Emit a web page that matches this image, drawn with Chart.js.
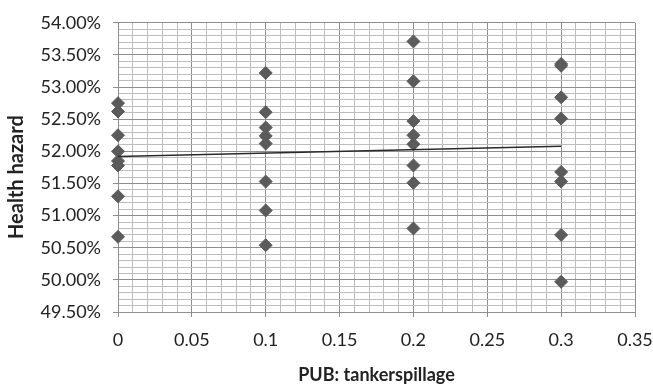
<!DOCTYPE html>
<html>
<head>
<meta charset="utf-8">
<script src="https://cdn.jsdelivr.net/npm/chart.js@4.4.0/dist/chart.umd.min.js"></script>
<style>
  html, body { margin: 0; padding: 0; background: #fff; }
  #wrap { width: 653px; height: 392px; }
</style>
</head>
<body>
<div id="wrap"><canvas id="scatterChart"></canvas></div>
<script>
// values (y in percent)
const xGroups = [0, 0.1, 0.2, 0.3];
const hazardAt0 = [52.75, 52.62, 52.25, 52.00, 51.85, 51.78, 51.30, 50.67];
const hazardAt01 = [53.22, 52.61, 52.37, 52.24, 52.12, 51.53, 51.08, 50.54];
const hazardAt02 = [53.71, 53.09, 52.47, 52.25, 52.11, 51.78, 51.51, 50.80];
const hazardAt03 = [53.36, 53.33, 52.84, 52.51, 51.68, 51.53, 50.70, 49.97];
const trendX = [0, 0.3];
const trendY = [51.92, 52.08];

const xTicks = [0, 0.05, 0.1, 0.15, 0.2, 0.25, 0.3, 0.35];
const yTicks = [49.5, 50, 50.5, 51, 51.5, 52, 52.5, 53, 53.5, 54];

const groups = [hazardAt0, hazardAt01, hazardAt02, hazardAt03];
const points = [];
groups.forEach((vals, i) => {
    vals.forEach(v => points.push({ x: xGroups[i], y: v }));
});
const trend = trendX.map((x, i) => ({ x: x, y: trendY[i] }));

function isMajor(list, v) {
    return list.some(t => Math.abs(t - v) < 1e-6);
}

const tickFont = { family: 'Lato', size: 18 };

const ctx = document.getElementById('scatterChart').getContext('2d');
const myChart = new Chart(ctx, {
    type: 'scatter',
    data: {
        datasets: [{
            label: 'Health hazard',
            data: points,
            pointStyle: 'rectRot',
            pointRadius: 6.5,
            pointHoverRadius: 6.5,
            backgroundColor: '#5b5b5b',
            borderColor: '#5b5b5b',
            borderWidth: 1,
            clip: false,
            order: 1
        }, {
            type: 'line',
            label: 'Trend',
            data: trend,
            borderColor: '#2a2a2a',
            borderWidth: 1.5,
            pointRadius: 0,
            fill: false,
            order: 0
        }]
    },
    options: {
        responsive: true,
        maintainAspectRatio: false,
        animation: false,
        layout: { padding: { left: 0, right: 0, top: 20, bottom: 0 } },
        plugins: {
            legend: { display: false },
            tooltip: { enabled: false }
        },
        scales: {
            x: {
                type: 'linear',
                min: 0,
                max: 0.35,
                ticks: {
                    stepSize: 0.01,
                    autoSkip: false,
                    maxRotation: 0,
                    padding: 12,
                    color: '#222',
                    font: tickFont,
                    callback: v => isMajor(xTicks, v) ? String(+v.toFixed(2)) : ''
                },
                grid: {
                    color: c => isMajor(xTicks, c.tick.value) ? '#8e8e8e' : '#bdbdbd',
                    tickColor: c => isMajor(xTicks, c.tick.value) ? '#8e8e8e' : 'rgba(0,0,0,0)',
                    tickLength: 5,
                    lineWidth: 1
                },
                border: { color: '#8e8e8e' },
                title: {
                    display: true,
                    text: 'PUB: tankerspillage',
                    color: '#222',
                    font: { family: 'Lato', size: 18, weight: 'bold' },
                    padding: { top: 4, bottom: 6 }
                },
                afterFit: s => {
                    s.height = 80;
                    s.paddingLeft = 0;
                    s.paddingRight = 18;
                }
            },
            y: {
                type: 'linear',
                min: 49.5,
                max: 54,
                ticks: {
                    stepSize: 0.1,
                    autoSkip: false,
                    padding: 12,
                    color: '#222',
                    font: tickFont,
                    callback: v => isMajor(yTicks, v) ? v.toFixed(2) + '%' : ''
                },
                grid: {
                    color: c => isMajor(yTicks, c.tick.value) ? '#8e8e8e' : '#bdbdbd',
                    tickColor: c => isMajor(yTicks, c.tick.value) ? '#8e8e8e' : 'rgba(0,0,0,0)',
                    tickLength: 5,
                    lineWidth: 1
                },
                border: { color: '#8e8e8e' },
                title: {
                    display: true,
                    text: 'Health hazard    ',
                    color: '#222',
                    font: { family: 'Lato', size: 20, weight: 'bold' },
                    padding: { top: 5, bottom: 2 }
                },
                afterFit: s => { s.width = 118; }
            }
        }
    }
});
</script>
</body>
</html>
